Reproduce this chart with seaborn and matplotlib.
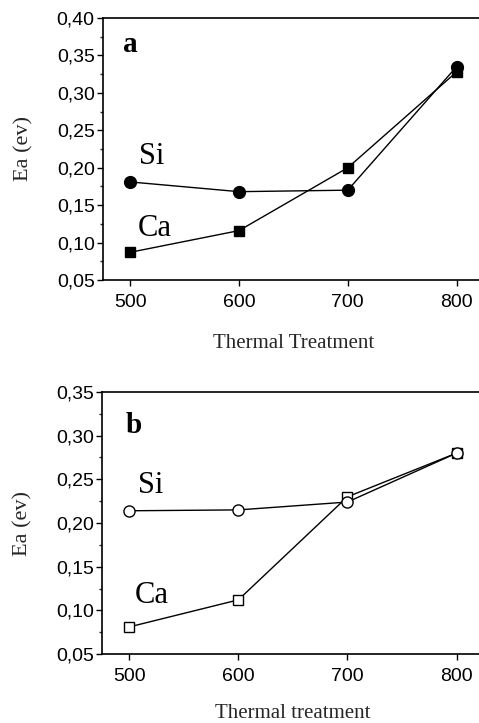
import matplotlib
matplotlib.use("Agg")
import matplotlib.pyplot as plt
import seaborn as sns
import pandas as pd
from matplotlib.ticker import MultipleLocator, FuncFormatter

sns.set_theme(style="ticks")
plt.rcParams['font.family'] = ['Liberation Sans', 'DejaVu Sans']

temps = [500, 600, 700, 800]
si_a = [0.181, 0.168, 0.170, 0.335]
ca_a = [0.087, 0.116, 0.200, 0.328]
si_b = [0.214, 0.215, 0.224, 0.280]
ca_b = [0.081, 0.112, 0.230, 0.280]

serif = 'Liberation Serif'
fig = plt.figure(figsize=(4.79, 7.23), dpi=100)
ax_a = fig.add_axes([103/479, 1-280/723, 1.01-103/479, 262/723])
ax_b = fig.add_axes([102/479, 1-654/723, 1.01-102/479, 262/723])

fmt = FuncFormatter(lambda v, p: f"{v:.2f}".replace('.', ','))

def draw(ax, si, ca, filled, ylim, xlabel, xlpad, letter, letter_pos, si_pos, ca_pos):
    df_si = pd.DataFrame({'T': temps, 'Ea': si})
    df_ca = pd.DataFrame({'T': temps, 'Ea': ca})
    fc = 'black' if filled else 'white'
    sns.lineplot(data=df_ca, x='T', y='Ea', ax=ax, color='black', lw=1,
                 marker='s', markersize=7.3, markerfacecolor=fc,
                 markeredgecolor='black', markeredgewidth=1)
    sns.lineplot(data=df_si, x='T', y='Ea', ax=ax, color='black', lw=1,
                 marker='o', markersize=8.5 if filled else 8, markerfacecolor=fc,
                 markeredgecolor='black', markeredgewidth=1)
    ax.set_xlim(475, 825)
    ax.set_ylim(*ylim)
    ax.set_xticks(temps)
    ax.yaxis.set_major_locator(MultipleLocator(0.05))
    ax.yaxis.set_minor_locator(MultipleLocator(0.025))
    ax.yaxis.set_major_formatter(fmt)
    ax.tick_params(axis='both', which='major', labelsize=14, direction='out',
                   length=4, width=1, colors='black')
    ax.tick_params(axis='x', which='major', pad=6)
    ax.tick_params(axis='y', which='major', pad=2)
    ax.tick_params(axis='y', which='minor', direction='out', length=2, width=1)
    for s in ax.spines.values():
        s.set_color('black')
        s.set_linewidth(1.2)
    ax.set_ylabel('Ea (ev)', fontfamily=serif, fontsize=16, labelpad=17)
    ax.set_xlabel(xlabel, fontfamily=serif, fontsize=15, labelpad=xlpad)
    ax.text(letter_pos[0], letter_pos[1], letter, transform=ax.transAxes,
            fontfamily=serif, fontweight='bold', fontsize=21, color='black')
    ax.text(si_pos[0], si_pos[1], 'Si', fontfamily=serif, fontsize=22, color='black')
    ax.text(ca_pos[0], ca_pos[1], 'Ca', fontfamily=serif, fontsize=22, color='black')

draw(ax_a, si_a, ca_a, True, (0.05, 0.40), 'Thermal Treatment', 17, 'a',
     (0.053, 0.870), (508, 0.205), (507, 0.109))
draw(ax_b, si_b, ca_b, False, (0.05, 0.35), 'Thermal treatment', 14, 'b',
     (0.061, 0.843), (508, 0.234), (505, 0.108))

fig.savefig('out.png', dpi=100)
